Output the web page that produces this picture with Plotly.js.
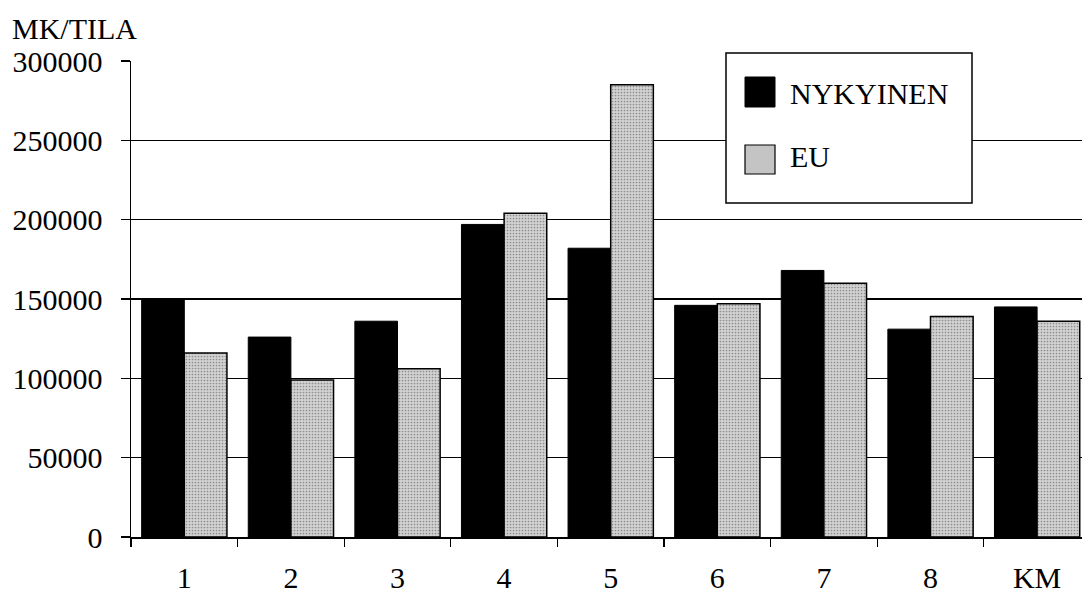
<!DOCTYPE html>
<html>
<head>
<meta charset="utf-8">
<script src="https://cdn.plot.ly/plotly-3.0.1.min.js"></script>
<style>
  html, body { margin: 0; padding: 0; background: #fff; }
  #chart { width: 1082px; height: 594px; }
</style>
</head>
<body>
<div id="chart"></div>
<script>
const categories = ['1', '2', '3', '4', '5', '6', '7', '8', 'KM'];
const nykyinen = [150000, 126000, 136000, 197000, 182000, 146000, 168000, 131000, 145000];
const eu = [116000, 99000, 106000, 204000, 285000, 147000, 160000, 139000, 136000];
const yTickVals = [0, 50000, 100000, 150000, 200000, 250000, 300000];
const yTickText = ['0', '50000', '100000', '150000', '200000', '250000', '300000'];
const seriesNames = ['NYKYINEN', 'EU'];
const yLabel = 'MK/TILA';

const FONT = '"Liberation Serif", "Times New Roman", Times, serif';

// plot area pixel geometry
const L = 131, T = 61, W = 951, H = 476;
const px = x => (x - L) / W;
const py = y => (T + H - y) / H;

const traces = [
  {
    type: 'bar', name: seriesNames[0], x: categories, y: nykyinen,
    marker: { color: '#000000', line: { color: '#000000', width: 1 } },
    hoverinfo: 'x+y'
  },
  {
    type: 'bar', name: seriesNames[1], x: categories, y: eu,
    marker: {
      color: '#cacaca',
      line: { color: '#000000', width: 1.5 },
      pattern: { shape: '.', fgcolor: '#8c8c8c', bgcolor: '#d2d2d2', size: 3, solidity: 0.25 }
    },
    hoverinfo: 'x+y'
  }
];

const layout = {
  width: 1082, height: 594,
  margin: { l: L, r: 1082 - L - W, t: T, b: 594 - T - H, pad: 0 },
  paper_bgcolor: '#ffffff', plot_bgcolor: '#ffffff',
  showlegend: false,
  barmode: 'group', bargap: 0.2, bargroupgap: 0,
  font: { family: FONT, size: 30, color: '#000' },
  title: {
    text: yLabel, font: { family: FONT, size: 30, color: '#000' },
    xref: 'container', yref: 'container',
    x: 12 / 1082, xanchor: 'left', y: 1 - 28 / 594, yanchor: 'middle'
  },
  xaxis: {
    type: 'category', range: [-0.5, -0.5 + W / 106.6],
    showgrid: false, zeroline: false,
    showline: true, linecolor: '#000', linewidth: 1.5,
    ticks: 'outside', tickson: 'boundaries', ticklen: 8, tickwidth: 1.2, tickcolor: '#000',
    tickfont: { family: FONT, size: 30, color: '#000' },
    ticklabelstandoff: 13,
    fixedrange: true
  },
  yaxis: {
    range: [0, 300000],
    tickmode: 'array', tickvals: yTickVals, ticktext: yTickText,
    showgrid: true, gridcolor: '#000', gridwidth: 1.5,
    zeroline: false,
    showline: true, linecolor: '#000', linewidth: 1.5,
    ticks: 'outside', ticklen: 9, tickwidth: 1.2, tickcolor: '#000',
    tickfont: { family: FONT, size: 30, color: '#000' },
    ticklabelstandoff: 12,
    fixedrange: true
  },
  shapes: [
    { type: 'rect', xref: 'paper', yref: 'paper', layer: 'above',
      x0: px(726), x1: px(972), y0: py(203), y1: py(53),
      fillcolor: '#ffffff', line: { color: '#000', width: 1.5 } },
    { type: 'rect', xref: 'paper', yref: 'paper', layer: 'above',
      x0: px(745), x1: px(775), y0: py(107), y1: py(77),
      fillcolor: '#000000', line: { color: '#000', width: 1 } },
    { type: 'rect', xref: 'paper', yref: 'paper', layer: 'above',
      x0: px(745), x1: px(775), y0: py(174), y1: py(145),
      fillcolor: '#c4c4c4', line: { color: '#000', width: 1.2 } }
  ],
  annotations: [
    { xref: 'paper', yref: 'paper', x: px(788), y: py(93), xanchor: 'left', yanchor: 'middle',
      text: seriesNames[0], showarrow: false, font: { family: FONT, size: 30, color: '#000' } },
    { xref: 'paper', yref: 'paper', x: px(788), y: py(157), xanchor: 'left', yanchor: 'middle',
      text: seriesNames[1], showarrow: false, font: { family: FONT, size: 30, color: '#000' } }
  ]
};

Plotly.newPlot('chart', traces, layout, { displayModeBar: false, staticPlot: true });
</script>
</body>
</html>
